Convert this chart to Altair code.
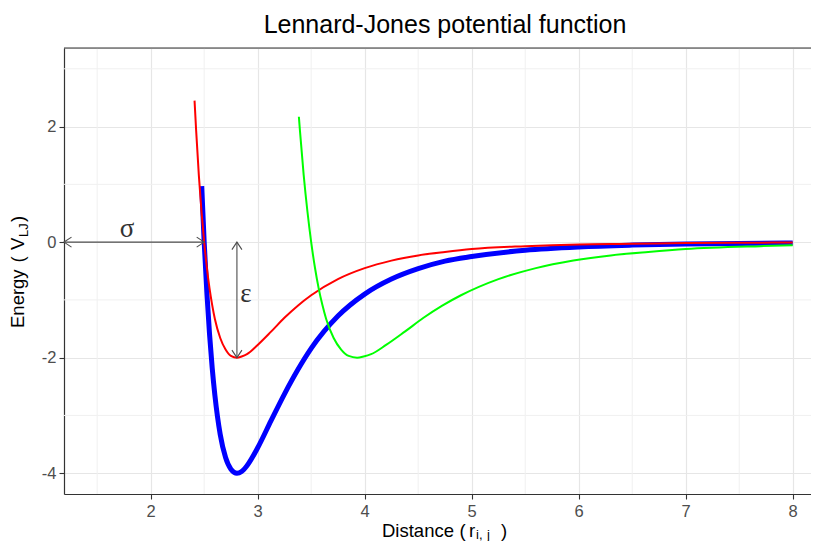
import altair as alt
import pandas as pd

# ---------------- data ----------------
red_x = [2.41, 2.425, 2.45, 2.475, 2.5, 2.525, 2.55, 2.575, 2.6, 2.65, 2.7, 2.75, 2.806, 2.85, 2.9,
         3.0, 3.125, 3.25, 3.375, 3.5, 3.75, 4.0, 4.25, 4.5, 4.75, 5.0, 5.5, 6.0, 6.5, 7.0, 7.5, 8.0]
red_y = [2.45, 1.93, 1.16, 0.53, 0.0, -0.44, -0.80, -1.09, -1.33, -1.66, -1.86, -1.97, -2.00, -1.98, -1.94,
         -1.78, -1.55, -1.31, -1.10, -0.92, -0.64, -0.45, -0.32, -0.23, -0.17, -0.12, -0.07, -0.04, -0.03, -0.017, -0.011, -0.007]

blue_x = [2.477, 2.5, 2.525, 2.55, 2.575, 2.6, 2.65, 2.7, 2.75, 2.806, 2.85, 2.9, 3.0, 3.125, 3.25,
          3.375, 3.5, 3.75, 4.0, 4.25, 4.5, 4.75, 5.0, 5.5, 6.0, 6.5, 7.0, 7.5, 8.0]
blue_y = [0.97, 0.0, -0.87, -1.59, -2.18, -2.65, -3.33, -3.73, -3.93, -4.00, -3.97, -3.87, -3.56, -3.09, -2.63,
          -2.21, -1.84, -1.28, -0.90, -0.64, -0.46, -0.33, -0.25, -0.14, -0.083, -0.052, -0.033, -0.022, -0.015]

green_x = [3.385, 3.395, 3.43, 3.465, 3.5, 3.535, 3.57, 3.605, 3.64, 3.71, 3.78, 3.85, 3.929, 3.99, 4.06,
           4.2, 4.375, 4.55, 4.725, 4.9, 5.25, 5.6, 5.95, 6.3, 6.65, 7.0, 7.7, 8.0]
green_y = [2.17, 1.93, 1.16, 0.53, 0.0, -0.44, -0.80, -1.09, -1.33, -1.66, -1.86, -1.97, -2.00, -1.98, -1.94,
           -1.78, -1.55, -1.31, -1.10, -0.92, -0.64, -0.45, -0.32, -0.23, -0.17, -0.12, -0.07, -0.055]

# annotation values (sigma and epsilon arrows)
sigma_x = [1.19, 2.5]
sigma_y = [0.0, 0.0]
eps_x = [2.806, 2.806]
eps_y = [0.0, -2.0]
head_x = [1.19, 2.5, 2.806, 2.806]
head_y = [0.0, 0.0, 0.0, -2.0]
head_angle = [180, 0, 270, 90]
label_text = ["σ", "ε"]
label_x = [1.78, 2.89]
label_y = [0.09, -1.04]

x_major = [2, 3, 4, 5, 6, 7, 8]
x_minor = [1.5, 2.5, 3.5, 4.5, 5.5, 6.5, 7.5]
y_major = [-4, -2, 0, 2]
y_minor = [-3, -1, 1, 3]

# ---------------- layout ----------------
W, H = 747, 446
FONT = "Liberation Sans"
x_dom = [1.19, 8.171]
y_dom = [-4.36, 3.36]

xs = alt.Scale(domain=x_dom, nice=False, zero=False)
ys = alt.Scale(domain=y_dom, nice=False, zero=False)

def make_axis(vals, pad):
    return alt.Axis(
        values=vals, title=None,
        labelExpr="'' + datum.value",
        labelOverlap=False, labelFlush=False,
        grid=True, gridColor="#e6e6e6", gridWidth=1.2,
        domainColor="#333333", domainWidth=1.2, tickColor="#333333", tickSize=5, tickWidth=1.1,
        labelColor="#4d4d4d", labelFont=FONT, labelFontSize=16.5, labelPadding=pad,
    )

x_axis = make_axis(x_major, 4)
y_axis = make_axis(y_major, 3)

X = lambda: alt.X("x:Q", scale=xs, axis=x_axis)
Y = lambda: alt.Y("y:Q", scale=ys, axis=y_axis)

minor_v = alt.Chart(pd.DataFrame({"x": x_minor})).mark_rule(color="#f0f0f0", strokeWidth=1).encode(x=X())
minor_h = alt.Chart(pd.DataFrame({"y": y_minor})).mark_rule(color="#f0f0f0", strokeWidth=1).encode(y=Y())

def curve(xv, yv, color, width):
    df = pd.DataFrame({"x": xv, "y": yv})
    return alt.Chart(df).mark_line(color=color, strokeWidth=width, interpolate="monotone").encode(
        x=X(), y=Y()
    )

blue = curve(blue_x, blue_y, "#0000ff", 5)
red = curve(red_x, red_y, "#ff0000", 2)
green = curve(green_x, green_y, "#00ff00", 2)

arrow_df = pd.DataFrame({
    "x": sigma_x + eps_x, "y": sigma_y + eps_y,
    "g": ["s", "s", "e", "e"],
})
arrows = alt.Chart(arrow_df).mark_line(color="#4d4d4d", strokeWidth=1.1).encode(
    x=X(), y=Y(), detail="g:N"
)
head_df = pd.DataFrame({"x": head_x, "y": head_y, "a": head_angle})
heads = alt.Chart(head_df).mark_point(
    shape="M-1.5,-1L0,0L-1.5,1", size=100, filled=False, color="#4d4d4d", strokeWidth=1.1, opacity=1
).encode(
    x=X(), y=Y(), angle=alt.Angle("a:Q", scale=None)
)
lab_df = pd.DataFrame({"t": label_text, "x": label_x, "y": label_y})
labels = alt.Chart(lab_df).mark_text(
    font="Liberation Serif", fontSize=27, color="#333333", align="center", baseline="alphabetic"
).encode(x=X(), y=Y(), text="t:N")

top_border = alt.Chart(pd.DataFrame({"k": [0]})).mark_rule(color="#333333", strokeWidth=1.2).encode(
    x=alt.value(0), x2=alt.value(W), y=alt.value(0)
)

def txt(s, x, y, size, angle=0, color="#000000", align="left", font=FONT):
    kw = dict(font=font, fontSize=size, color=color, align=align, baseline="alphabetic")
    if angle:
        kw["angle"] = angle
    return alt.Chart(pd.DataFrame({"t": [s]})).mark_text(**kw).encode(
        text="t:N", x=alt.value(x), y=alt.value(y)
    )

title = txt("Lennard-Jones potential function", 381, -15, 25, align="center")

# x-axis title: Distance ( r_{i, j} )
xt = [
    txt("Distance", 318, 488.5, 18.5),
    txt("(", 395.5, 488.5, 18.5),
    txt("r", 405, 488.5, 18.5),
    txt("i,", 412, 491, 13),
    txt("j", 423, 491, 13),
    txt(")", 437, 488.5, 18.5),
]
# y-axis title: Energy ( V_LJ )
yt = [
    txt("Energy", -40.5, 280, 18.5, angle=270),
    txt("(", -40.5, 214.4, 18.5, angle=270),
    txt("V", -40.5, 202, 18.5, angle=270),
    txt("LJ", -36, 189, 13, angle=270),
    txt(")", -40.5, 174, 18.5, angle=270),
]

chart = alt.layer(
    minor_v, minor_h, blue, red, green, arrows, heads, labels, top_border, title, *xt, *yt
).properties(
    width=W, height=H,
    autosize=alt.AutoSizeParams(type="none"),
    padding={"left": 56, "top": 40, "right": 0, "bottom": 47},
).configure_view(stroke=None).configure(background="white")

chart.save("out.html", embed_options={"renderer": "svg", "actions": False})
